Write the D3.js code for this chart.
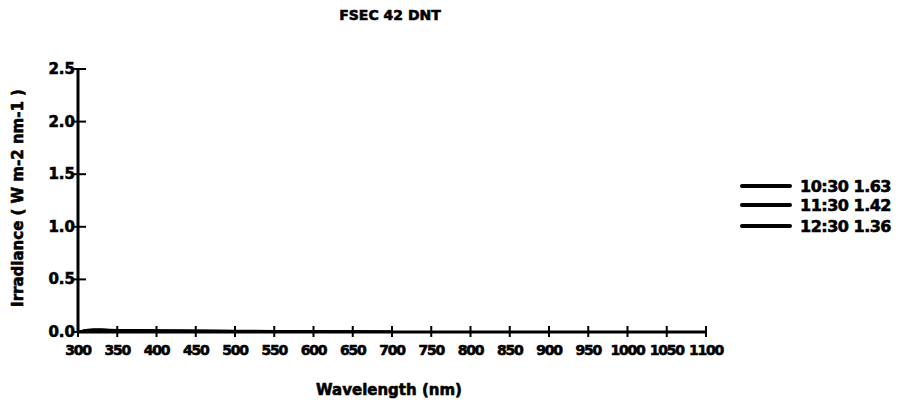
<!DOCTYPE html>
<html><head><meta charset="utf-8">
<script src="https://cdn.jsdelivr.net/npm/d3@7"></script>
<style>body{margin:0;background:#fff}svg text{font-family:"DejaVu Sans",sans-serif;font-weight:bold;fill:#000;stroke:#000;stroke-width:0.6}</style>
</head><body><svg id="c" width="905" height="402"></svg>
<script>
const xTicks = [300,350,400,450,500,550,600,650,700,750,800,850,900,950,1000,1050,1100];
const yTicks = [0.0,0.5,1.0,1.5,2.0,2.5];
const wavelengths = [300,310,320,330,340,350,375,400,450,500,550,600,650,700];
const s1030 = [0.0,0.02,0.025,0.025,0.022,0.02,0.018,0.016,0.014,0.012,0.01,0.008,0.006,0.004];
const s1130 = [0.0,0.018,0.022,0.022,0.02,0.018,0.016,0.014,0.012,0.01,0.008,0.006,0.005,0.003];
const s1230 = [0.0,0.016,0.02,0.02,0.018,0.016,0.015,0.013,0.011,0.009,0.007,0.006,0.004,0.003];
const seriesNames = ["10:30 1.63","11:30 1.42","12:30 1.36"];
const seriesData = [s1030,s1130,s1230];

const svg = d3.select("#c");
const x = d3.scaleLinear().domain([300,1100]).range([78,706]);
const y = d3.scaleLinear().domain([0,2.5]).range([332,69]);

// axes
svg.append("line").attr("x1",x(300)).attr("x2",x(1100)).attr("y1",y(0)).attr("y2",y(0)).attr("stroke","#000").attr("stroke-width",3);
svg.append("line").attr("x1",x(300)).attr("x2",x(300)).attr("y1",y(0)).attr("y2",y(2.5)).attr("stroke","#000").attr("stroke-width",3);
xTicks.forEach(t=>{
  svg.append("line").attr("x1",x(t)).attr("x2",x(t)).attr("y1",y(0)-6).attr("y2",y(0)+5).attr("stroke","#000").attr("stroke-width",2);
  svg.append("text").attr("x",x(t)).attr("y",y(0)+23).attr("text-anchor","middle").attr("font-size",14).attr("letter-spacing",-1.2).text(t);
});
yTicks.forEach(t=>{
  svg.append("line").attr("x1",x(300)-5).attr("x2",x(300)+8).attr("y1",y(t)).attr("y2",y(t)).attr("stroke","#000").attr("stroke-width",2);
  svg.append("text").attr("x",x(300)-3).attr("y",y(t)+5).attr("text-anchor","end").attr("font-size",15).text(t.toFixed(1));
});

// lines
const line = d3.line().x((d,i)=>x(wavelengths[i])).y(d=>y(d));
seriesData.forEach(s=>{
  svg.append("path").attr("d",line(s)).attr("fill","none").attr("stroke","#000").attr("stroke-width",2);
});

// title and labels
svg.append("text").attr("x",390).attr("y",20).attr("text-anchor","middle").attr("font-size",14).text("FSEC 42 DNT");
svg.append("text").attr("x",389).attr("y",395).attr("text-anchor","middle").attr("font-size",15).text("Wavelength (nm)");
svg.append("text").attr("transform","translate(23,198) rotate(-90)").attr("text-anchor","middle").attr("font-size",15).text("Irradiance ( W m-2 nm-1 )");

// legend
const legY = [186,205,226];
seriesNames.forEach((n,i)=>{
  svg.append("line").attr("x1",742).attr("x2",790).attr("y1",legY[i]).attr("y2",legY[i]).attr("stroke","#000").attr("stroke-width",4).attr("stroke-linecap","round");
  svg.append("text").attr("x",800).attr("y",legY[i]+6).attr("font-size",16).attr("letter-spacing",-0.5).text(n);
});
</script></body></html>
